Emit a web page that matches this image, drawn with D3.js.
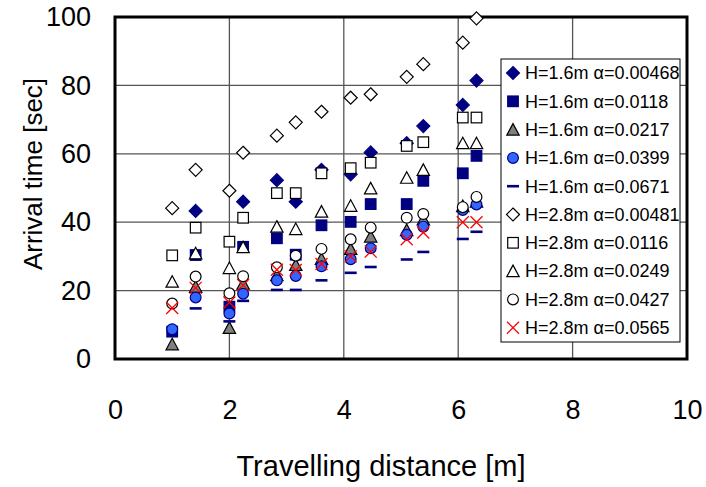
<!DOCTYPE html>
<html>
<head>
<meta charset="utf-8">
<script src="https://cdn.jsdelivr.net/npm/d3@7"></script>
<style>
  body { margin: 0; background: #fff; }
  svg text { font-family: "Liberation Sans", Arial, sans-serif; fill: #000; }
</style>
</head>
<body>
<svg id="chart" width="706" height="487"></svg>
<script>
// travelling distances (m)
var distances = [1.0, 1.41, 2.0, 2.24, 2.83, 3.16, 3.61, 4.12, 4.47, 5.10, 5.39, 6.08, 6.32];

// arrival times (sec), one array per series, null = no point
var h16a00468 = [null, 43.3, null, 46, 52.3, 46, 55.3, 54, 60.4, 63.1, 68.1, 74.3, 81.4];
var h16a0118  = [8, 30.4, 15.3, 32.8, 35.3, 30.5, 39.1, 40.1, 45.3, 45.3, 52.1, 54.3, 59.4];
var h16a0217  = [4.3, 21.1, 9.1, 22, 24.5, 27.5, 29.3, 32.2, 35.8, 37.7, 40.8, 44.7, 46];
var h16a0399  = [8.7, 18.0, 13.3, 19.1, 23.0, 24.3, 27.1, 29.2, 32.4, 36.3, 38.7, 43.6, 45.2];
var h16a0671  = [null, 14.8, 11.0, 17.0, 20.2, 20.2, 23.0, 25.2, 26.9, 29.1, 31.3, 35.1, 37.2];
var h28a00481 = [44.1, 55.3, 49.2, 60.3, 65.3, 69.2, 72.3, 76.4, 77.4, 82.5, 86.2, 92.5, 99.6];
var h28a0116  = [30.3, 38.4, 34.3, 41.3, 48.5, 48.5, 54.3, 55.8, 57.4, 62.3, 63.4, 70.6, 70.6];
var h28a0249  = [22.6, 30.9, 26.6, 32.7, 38.7, 38.0, 43.1, 44.8, 49.9, 53, 55.3, 63.1, 63.1];
var h28a0427  = [16.2, 24.1, 19.2, 24.2, 26.8, 30.2, 32.2, 35, 38.4, 41.3, 42.4, 44.4, 47.4];
var h28a0565  = [14.9, 20.8, 16.5, 21.6, 26.1, 26, 27.8, 30, 31.4, 35, 37, 40, 40];

var seriesNames = ["H=1.6m \u03b1=0.00468", "H=1.6m \u03b1=0.0118", "H=1.6m \u03b1=0.0217",
                   "H=1.6m \u03b1=0.0399", "H=1.6m \u03b1=0.0671", "H=2.8m \u03b1=0.00481",
                   "H=2.8m \u03b1=0.0116", "H=2.8m \u03b1=0.0249", "H=2.8m \u03b1=0.0427",
                   "H=2.8m \u03b1=0.0565"];
var xTicks = [0, 2, 4, 6, 8, 10];
var yTicks = [0, 20, 40, 60, 80, 100];

var seriesValues = [h16a00468, h16a0118, h16a0217, h16a0399, h16a0671,
                    h28a00481, h28a0116, h28a0249, h28a0427, h28a0565];
var markerTypes = ["diamondFilled", "squareFilled", "triangleGray", "circleBlue", "dash",
                   "diamondOpen", "squareOpen", "triangleOpen", "circleOpen", "cross"];

var svg = d3.select("#chart");
var plotLeft = 115, plotRight = 687, plotTop = 17, plotBottom = 359;

var xScale = d3.scaleLinear().domain([0, 10]).range([plotLeft, plotRight]);
var yScale = d3.scaleLinear().domain([0, 100]).range([plotBottom, plotTop]);

// grid lines
svg.append("g").selectAll("line")
    .data(yTicks.slice(1, -1))
    .join("line")
    .attr("x1", plotLeft).attr("x2", plotRight)
    .attr("y1", d => yScale(d)).attr("y2", d => yScale(d))
    .attr("stroke", "#555").attr("stroke-width", 1.3);
svg.append("g").selectAll("line")
    .data(xTicks.slice(1, -1))
    .join("line")
    .attr("y1", plotTop).attr("y2", plotBottom)
    .attr("x1", d => xScale(d)).attr("x2", d => xScale(d))
    .attr("stroke", "#555").attr("stroke-width", 1.3);

// axes (labels only)
var yAxis = svg.append("g")
    .attr("transform", "translate(" + plotLeft + ",0)")
    .call(d3.axisLeft(yScale).tickValues(yTicks).tickSize(0).tickPadding(24));
var xAxis = svg.append("g")
    .attr("transform", "translate(0," + plotBottom + ")")
    .call(d3.axisBottom(xScale).tickValues(xTicks).tickSize(0).tickPadding(41));
[yAxis, xAxis].forEach(function(ax) {
    ax.select(".domain").remove();
    ax.selectAll("text").attr("font-size", "27px")
        .attr("font-family", "'Liberation Sans', Arial, sans-serif");
});

// frame
svg.append("rect")
    .attr("x", plotLeft).attr("y", plotTop)
    .attr("width", plotRight - plotLeft).attr("height", plotBottom - plotTop)
    .attr("fill", "none").attr("stroke", "#000").attr("stroke-width", 3);

// marker drawing
function drawMarker(g, type, cx, cy) {
    var t = "translate(" + cx + "," + cy + ")";
    if (type == "diamondFilled" || type == "diamondOpen") {
        g.append("path").attr("transform", t)
            .attr("d", "M0,-6.5L6.5,0L0,6.5L-6.5,0Z")
            .attr("fill", type == "diamondFilled" ? "#000080" : "#fff")
            .attr("stroke", type == "diamondFilled" ? "#000080" : "#000")
            .attr("stroke-width", 1.2);
    } else if (type == "squareFilled" || type == "squareOpen") {
        g.append("rect").attr("transform", t)
            .attr("x", -5.3).attr("y", -5.3).attr("width", 10.6).attr("height", 10.6)
            .attr("fill", type == "squareFilled" ? "#000080" : "#fff")
            .attr("stroke", type == "squareFilled" ? "#000080" : "#000")
            .attr("stroke-width", 1.2);
    } else if (type == "triangleGray" || type == "triangleOpen") {
        g.append("path").attr("transform", t)
            .attr("d", "M0,-6L6.2,5.5L-6.2,5.5Z")
            .attr("fill", type == "triangleGray" ? "#808080" : "#fff")
            .attr("stroke", "#000").attr("stroke-width", 1.2);
    } else if (type == "circleBlue" || type == "circleOpen") {
        g.append("circle").attr("cx", cx).attr("cy", cy).attr("r", 5.4)
            .attr("fill", type == "circleBlue" ? "#3366ff" : "#fff")
            .attr("stroke", type == "circleBlue" ? "#000080" : "#000")
            .attr("stroke-width", 1.2);
    } else if (type == "dash") {
        g.append("line").attr("transform", t)
            .attr("x1", -6).attr("x2", 6).attr("y1", 0).attr("y2", 0)
            .attr("stroke", "#000080").attr("stroke-width", 2.6);
    } else if (type == "cross") {
        g.append("path").attr("transform", t)
            .attr("d", "M-6,-6L6,6M-6,6L6,-6")
            .attr("fill", "none").attr("stroke", "#ff0000").attr("stroke-width", 1.3);
    }
}

// data points, series drawn in order so later ones sit on top
var plot = svg.append("g").attr("id", "points");
seriesValues.forEach(function(vals, si) {
    var g = plot.append("g").attr("class", "series");
    vals.forEach(function(v, i) {
        if (v == null) return;
        drawMarker(g, markerTypes[si], xScale(distances[i]), yScale(v));
    });
});

// legend
var legend = svg.append("g").attr("id", "legend");
legend.append("rect")
    .attr("x", 501).attr("y", 59).attr("width", 179).attr("height", 283)
    .attr("fill", "#fff").attr("stroke", "#000").attr("stroke-width", 1);
seriesNames.forEach(function(name, i) {
    var ly = 73 + i * 28.3;
    drawMarker(legend, markerTypes[i], 513, ly);
    legend.append("text")
        .attr("x", 525).attr("y", ly).attr("dy", "0.35em")
        .attr("font-size", "18px")
        .text(name);
});

// axis titles
svg.append("text")
    .attr("x", 381).attr("y", 476)
    .attr("text-anchor", "middle").attr("font-size", "29px")
    .text("Travelling distance [m]");
svg.append("text")
    .attr("transform", "translate(42,174) rotate(-90)")
    .attr("text-anchor", "middle").attr("font-size", "26px")
    .text("Arrival time [sec]");
</script>
</body>
</html>
